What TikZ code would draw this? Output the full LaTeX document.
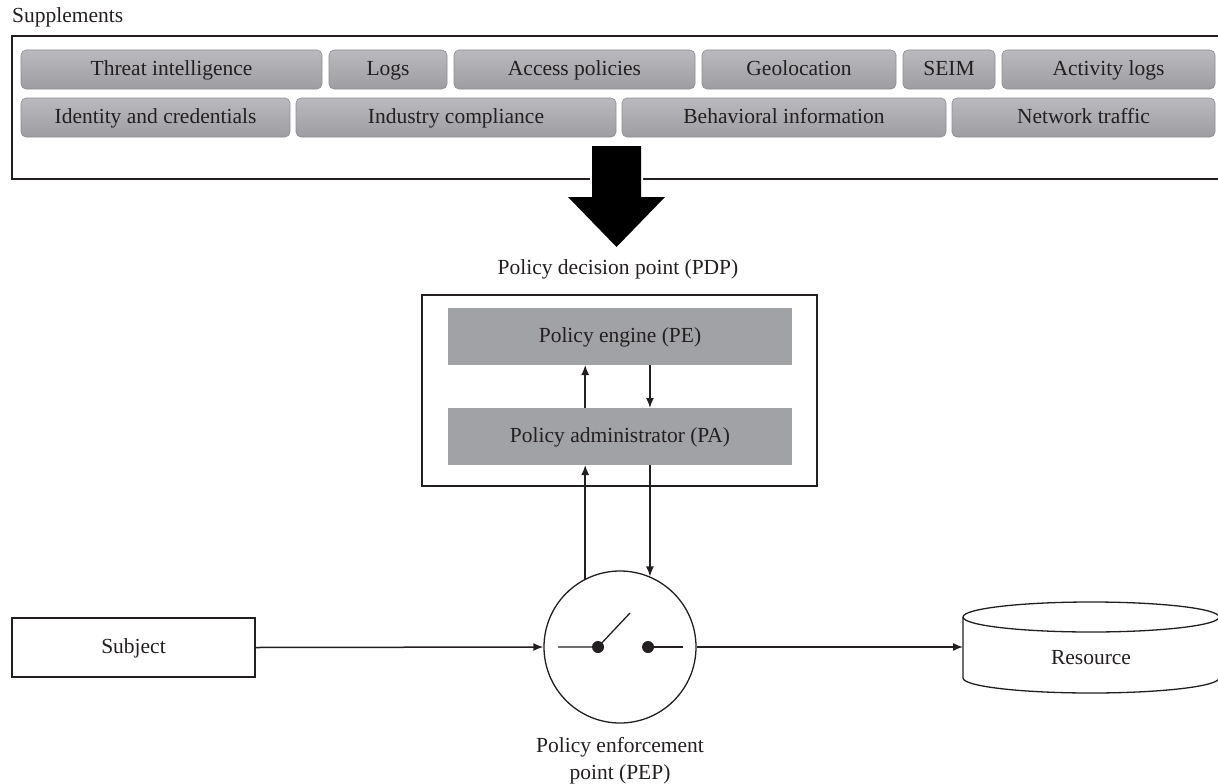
\documentclass[tikz,border=0pt]{standalone}
\usepackage{fontspec}
\setmainfont{Liberation Serif}
\usetikzlibrary{arrows.meta}
\definecolor{ink}{RGB}{35,31,32}
\definecolor{tagtop}{RGB}{186,186,190}
\definecolor{tagbot}{RGB}{158,158,162}
\definecolor{tagedge}{RGB}{140,140,145}
\definecolor{pdpgray}{RGB}{161,162,165}
\begin{document}
\begin{tikzpicture}[x=1pt,y=-1pt,
  every node/.style={font=\fontsize{21.5}{27}\selectfont, text=ink},
  even/.style={text height=15.5pt, text depth=4.5pt},
  tag/.style={even, rounded corners=5pt, top color=tagtop, bottom color=tagbot,
    draw=tagedge, line width=0.6pt, inner sep=0pt, outer sep=0pt,
    minimum height=39pt},
  graybox/.style={even, fill=pdpgray, inner sep=0pt, outer sep=0pt,
    minimum width=344pt, minimum height=57pt},
  frame/.style={draw=ink, line width=1.3pt},
  conn/.style={draw=ink, line width=1.5pt, -{Latex[length=10pt,width=8pt]}}]
\useasboundingbox (0,0) rectangle (1218,784);

% Supplements panel
\node[anchor=base west, inner sep=0pt] (suptitle) at (12,23) {Supplements};
\draw[frame] (1224,36) -- (12,36) -- (12,179) -- (1224,179);

% row 1
\node[tag, minimum width=301pt] (threat)   at (171.5,69.5) {Threat intelligence};
\node[tag, minimum width=118pt] (logs)     at (388,69.5)   {Logs};
\node[tag, minimum width=241pt] (access)   at (574.5,69.5) {Access policies};
\node[tag, minimum width=194pt] (geo)      at (799,69.5)   {Geolocation};
\node[tag, minimum width=92pt]  (seim)     at (949,69.5)   {SEIM};
\node[tag, minimum width=213pt] (activity) at (1108.5,69.5){Activity logs};
% row 2
\node[tag, minimum width=269pt] (identity) at (155.5,117.5){Identity and credentials};
\node[tag, minimum width=320pt] (industry) at (456,117.5)  {Industry compliance};
\node[tag, minimum width=324pt] (behav)    at (784,117.5)  {Behavioral information};
\node[tag, minimum width=263pt] (network)  at (1083.5,117.5){Network traffic};

% big downward arrow feeding the decision point
\path[fill=black, preaction={draw=white, line width=4pt}]
  (592,146) -- (641,146) -- (641,197) -- (665,197) -- (616.5,247)
  -- (568,197) -- (592,197) -- cycle;

% Policy decision point
\node[even] (pdplabel) at (618,269) {Policy decision point (PDP)};
\node[frame, inner sep=0pt, minimum width=395pt, minimum height=191pt] (pdp) at (619.5,390.5) {};
\node[graybox] (pe) at (620,336.5) {Policy engine (PE)};
\node[graybox] (pa) at (620,436.5) {Policy administrator (PA)};

% Policy enforcement point
\node[circle, draw=ink, line width=1.3pt, minimum size=152pt, inner sep=0pt] (pep) at (620,647) {};
\node[align=center, inner sep=0pt] (peplabel) at (620,761) {Policy enforcement\\point (PEP)};
% switch symbol
\coordinate (swa) at (598,647);
\coordinate (swb) at (648,647);
\draw[ink, line width=1.3pt] (558,647) -- (swa) -- (630,613);
\draw[ink, line width=1.3pt] (swb) -- (683,647);
\fill[ink] (swa) circle (6pt) (swb) circle (6pt);

% Subject
\node[frame, even, inner sep=0pt, minimum width=243pt, minimum height=59pt] (subject) at (133.5,647.5) {Subject};

% Resource (cylinder)
\draw[ink, line width=1.3pt, fill=white]
  (963,617) -- (963,678) arc[start angle=180, end angle=360, x radius=128pt, y radius=15pt]
  -- (1219,617);
\draw[ink, line width=1.3pt] (1091,617) ellipse[x radius=128pt, y radius=15pt];
\node[even, inner sep=0pt, minimum width=256pt, minimum height=61pt] (res) at (1091,659) {Resource};
\coordinate (resin) at (963,647);

% connectors
\draw[conn] (pe.south -| pep.117) ++(0,43) coordinate (peup) -- (peup |- pe.south);
\draw[conn] (pe.south -| pep.67) -- (pa.north -| pep.67);
\draw[conn] (pep.117) -- (pep.117 |- pa.south);
\draw[conn] (pa.south -| pep.67) -- (pep.67);
\draw[conn] (subject.east) -- (pep.west);
\draw[conn] (pep.east) -- (resin);
\end{tikzpicture}
\end{document}
